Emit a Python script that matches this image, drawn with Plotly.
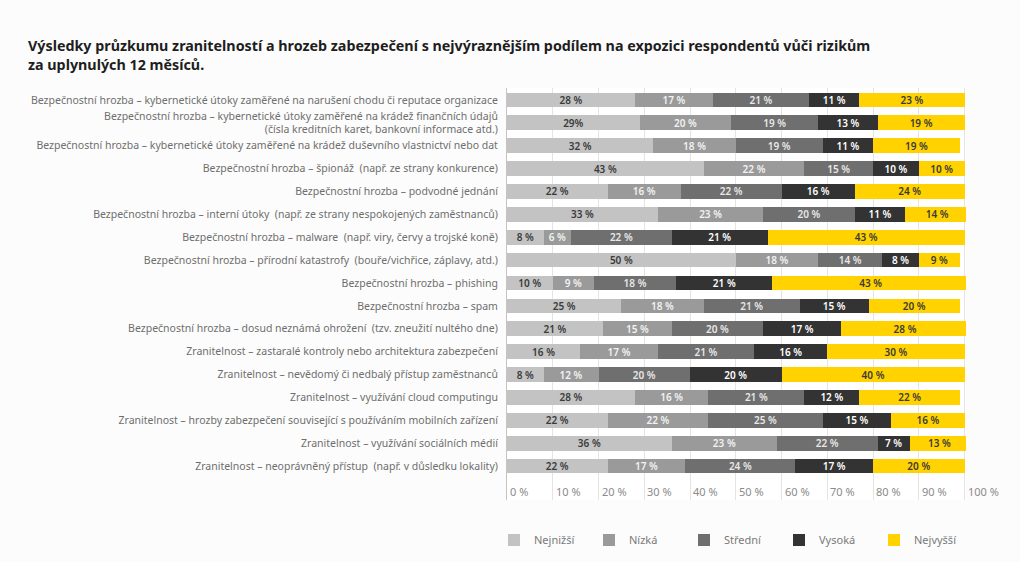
import plotly.graph_objects as go

categories = [
    "Bezpečnostní hrozba – kybernetické útoky zaměřené na narušení chodu či reputace organizace",
    "Bezpečnostní hrozba – kybernetické útoky zaměřené na krádež finančních údajů<br>(čísla kreditních karet, bankovní informace atd.)",
    "Bezpečnostní hrozba – kybernetické útoky zaměřené na krádež duševního vlastnictví nebo dat",
    "Bezpečnostní hrozba – špionáž  (např. ze strany konkurence)",
    "Bezpečnostní hrozba – podvodné jednání",
    "Bezpečnostní hrozba – interní útoky  (např. ze strany nespokojených zaměstnanců)",
    "Bezpečnostní hrozba – malware  (např. viry, červy a trojské koně)",
    "Bezpečnostní hrozba – přírodní katastrofy  (bouře/vichřice, záplavy, atd.)",
    "Bezpečnostní hrozba – phishing",
    "Bezpečnostní hrozba – spam",
    "Bezpečnostní hrozba – dosud neznámá ohrožení  (tzv. zneužití nultého dne)",
    "Zranitelnost – zastaralé kontroly nebo architektura zabezpečení",
    "Zranitelnost – nevědomý či nedbalý přístup zaměstnanců",
    "Zranitelnost – využívání cloud computingu",
    "Zranitelnost – hrozby zabezpečení související s používáním mobilních zařízení",
    "Zranitelnost – využívání sociálních médií",
    "Zranitelnost – neoprávněný přístup  (např. v důsledku lokality)",
]

nejnizsi = [28, 29, 32, 43, 22, 33, 8, 50, 10, 25, 21, 16, 8, 28, 22, 36, 22]
nizka    = [17, 20, 18, 22, 16, 23, 6, 18, 9, 18, 15, 17, 12, 16, 22, 23, 17]
stredni  = [21, 19, 19, 15, 22, 20, 22, 14, 18, 21, 20, 21, 20, 21, 25, 22, 24]
vysoka   = [11, 13, 11, 10, 16, 11, 21, 8, 21, 15, 17, 16, 20, 12, 15, 7, 17]
nejvyssi = [23, 19, 19, 10, 24, 14, 43, 9, 43, 20, 28, 30, 40, 22, 16, 13, 20]

series_names = ["Nejnižší", "Nízká", "Střední", "Vysoká", "Nejvyšší"]
series_values = [nejnizsi, nizka, stredni, vysoka, nejvyssi]
series_colors = ["#c3c3c3", "#9a9a9a", "#6f6f6f", "#333333", "#ffd200"]
text_colors = ["#3a3a3a", "#f2f2f2", "#e8e8e8", "#ffffff", "#3a3a3a"]

x_ticks = [0, 10, 20, 30, 40, 50, 60, 70, 80, 90, 100]
x_tick_labels = [f"{t} %" for t in x_ticks]

# label exceptions as printed in the source
label_overrides = {(0, 1): "29%"}

fig = go.Figure()
for si, (name, vals, col, tcol) in enumerate(zip(series_names, series_values, series_colors, text_colors)):
    labels = [label_overrides.get((si, ri), f"{v} %") for ri, v in enumerate(vals)]
    fig.add_trace(go.Bar(
        name=name, y=categories, x=vals, orientation="h",
        marker=dict(color=col, line=dict(width=0)),
        text=labels, textposition="inside", insidetextanchor="middle",
        textangle=0, constraintext="none",
        textfont=dict(family="Noto Sans", size=10, color=tcol, weight=600),
        width=0.64, hoverinfo="skip",
    ))

for t, lab in zip(x_ticks, x_tick_labels):
    fig.add_annotation(x=t, y=17.1, xref="x", yref="y", text=lab, showarrow=False,
                       xanchor="left", yanchor="middle", xshift=1,
                       font=dict(family="Noto Sans", size=11, color="#8a8a8a"))

fig.update_layout(
    barmode="stack",
    width=1020, height=562,
    margin=dict(l=507, r=54, t=88, b=62, autoexpand=False),
    paper_bgcolor="#fcfcfc", plot_bgcolor="#ffffff",
    font=dict(family="Noto Sans", color="#6a6a6a"),
    title=dict(
        text="<b>Výsledky průzkumu zranitelností a hrozeb zabezpečení s nejvýraznějším podílem na expozici respondentů vůči rizikům<br>za uplynulých 12 měsíců.</b>",
        x=28/1020, xanchor="left", xref="container",
        y=1 - 51/562, yanchor="top", yref="container",
        font=dict(family="Noto Sans", size=14.3, color="#1e1e1e"),
        pad=dict(t=0, b=0),
    ),
    xaxis=dict(range=[0, 100.3], dtick=10, tick0=0, showticklabels=False,
               showgrid=True, gridcolor="#e4e4e4", gridwidth=1, zeroline=False,
               fixedrange=True),
    yaxis=dict(range=[17.48, -0.52], showgrid=False, ticks="",
               showline=True, linecolor="#c4c4c4", linewidth=1,
               tickfont=dict(family="Noto Sans", size=10.5, color="#6e6e6e"),
               ticklabelstandoff=6),
    legend=dict(orientation="h", x=(494 - 507) / 459, xanchor="left",
                y=-40 / 412, yanchor="middle",
                traceorder="normal", entrywidth=50, entrywidthmode="pixels",
                font=dict(family="Noto Sans", size=11, color="#7a7a7a"),
                bgcolor="rgba(0,0,0,0)"),
    showlegend=True,
)

fig.write_html("out.html")
